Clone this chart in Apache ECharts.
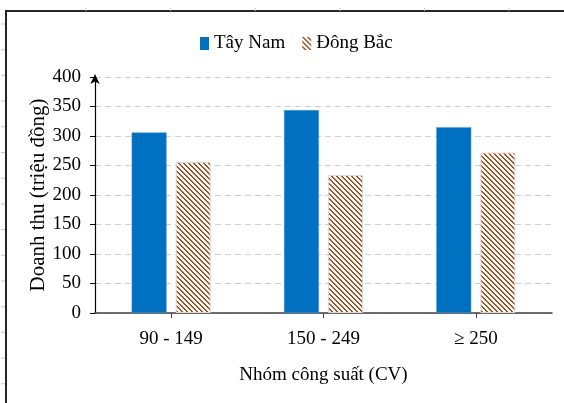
<!DOCTYPE html>
<html>
<head>
<meta charset="utf-8">
<script src="https://cdn.jsdelivr.net/npm/echarts@6/dist/echarts.min.js"></script>
<style>
  html, body { margin: 0; padding: 0; background: #fff; }
  #chart { width: 564px; height: 403px; }
</style>
</head>
<body>
<div id="chart"></div>
<script>
// Revenue by engine-power group, two regions
const categories = ['90 - 149', '150 - 249', '\u2265 250'];
const tayNam = [306, 344, 315];
const dongBac = [256, 234, 272];
const seriesNames = ['Tây Nam', 'Đông Bắc'];
const yTicks = { min: 0, max: 400, interval: 50 };

const FONT = '"Liberation Serif", "Times New Roman", serif';
const BLUE = '#0070C0';
const BROWN = '#A5521F';

// Diagonal "\" hatch tile used as fill for the second series
function hatchTile() {
  const n = 10, period = 5;
  const c = document.createElement('canvas');
  c.width = n; c.height = n;
  const ctx = c.getContext('2d');
  ctx.fillStyle = '#ffffff';
  ctx.fillRect(0, 0, n, n);
  ctx.fillStyle = BROWN;
  for (let y = 0; y < n; y++) {
    for (let x = 0; x < n; x++) {
      const d = ((x - y) % period + period) % period;
      if (d === 0 || d === 1) ctx.fillRect(x, y, 1, 1);
    }
  }
  return c;
}
const hatch = { image: hatchTile(), repeat: 'repeat' };

// Small ruler marks along the page frame
const frameMarks = [];
for (let i = 0; i < 16; i++) {
  const y = 24 + i * 25.7;
  frameMarks.push({ type: 'line', shape: { x1: 1, y1: y, x2: 5, y2: y }, style: { stroke: '#c8c8c8', lineWidth: 1 } });
}
for (let i = 0; i < 6; i++) {
  const x = 86 + i * 84.6;
  frameMarks.push({ type: 'line', shape: { x1: x, y1: 8, x2: x, y2: 11 }, style: { stroke: '#c8c8c8', lineWidth: 1 } });
}

const chart = echarts.init(document.getElementById('chart'), null, { renderer: 'canvas' });
chart.setOption({
  backgroundColor: '#ffffff',
  animation: false,
  textStyle: { fontFamily: FONT },
  graphic: [
    { type: 'polyline', shape: { points: [[6, 410], [6, 11], [570, 11]] }, style: { stroke: '#262626', lineWidth: 2, fill: null } }
  ].concat(frameMarks),
  legend: {
    left: 195, top: 29,
    icon: 'rect',
    itemWidth: 9, itemHeight: 13, itemGap: 17,
    textStyle: { fontFamily: FONT, fontSize: 19, color: '#000' },
    data: [
      { name: seriesNames[0], itemStyle: { color: BLUE, borderWidth: 0 } },
      { name: seriesNames[1], itemStyle: { color: hatch, borderWidth: 0 } }
    ]
  },
  grid: { left: 95, right: 12, top: 77, bottom: 90, containLabel: false },
  xAxis: {
    type: 'category',
    data: categories,
    name: 'Nhóm công suất (CV)',
    nameLocation: 'middle',
    nameGap: 53,
    nameMoveOverlap: false,
    nameTextStyle: { fontFamily: FONT, fontSize: 19, color: '#000' },
    axisLine: { lineStyle: { color: '#404040', width: 1.5 } },
    axisTick: { show: true, alignWithLabel: true, length: 5, lineStyle: { color: '#404040' } },
    axisLabel: { fontFamily: FONT, fontSize: 19, color: '#000', margin: 17 }
  },
  yAxis: {
    type: 'value',
    min: yTicks.min, max: yTicks.max, interval: yTicks.interval,
    name: 'Doanh thu (triệu đồng)',
    nameLocation: 'middle',
    nameGap: 46,
    nameMoveOverlap: false,
    nameTextStyle: { fontFamily: FONT, fontSize: 21, color: '#000' },
    axisLine: { show: true, symbol: ['none', 'arrow'], symbolSize: [7, 10], symbolOffset: [0, 3], lineStyle: { color: '#000', width: 1.2 } },
    axisTick: { show: true, length: 5, lineStyle: { color: '#000' } },
    axisLabel: { fontFamily: FONT, fontSize: 19, color: '#000', margin: 14 },
    splitLine: { show: true, lineStyle: { color: '#d0d0d0', type: [6, 4], width: 1 } }
  },
  series: [
    {
      name: seriesNames[0], type: 'bar', data: tayNam,
      barWidth: 35, barGap: '26%',
      itemStyle: { color: BLUE, borderColor: '#5b9bd5', borderWidth: 0.5 }
    },
    {
      name: seriesNames[1], type: 'bar', data: dongBac,
      barWidth: 35,
      itemStyle: { color: hatch, borderColor: '#d9d9d9', borderWidth: 1 }
    }
  ]
});
</script>
</body>
</html>
